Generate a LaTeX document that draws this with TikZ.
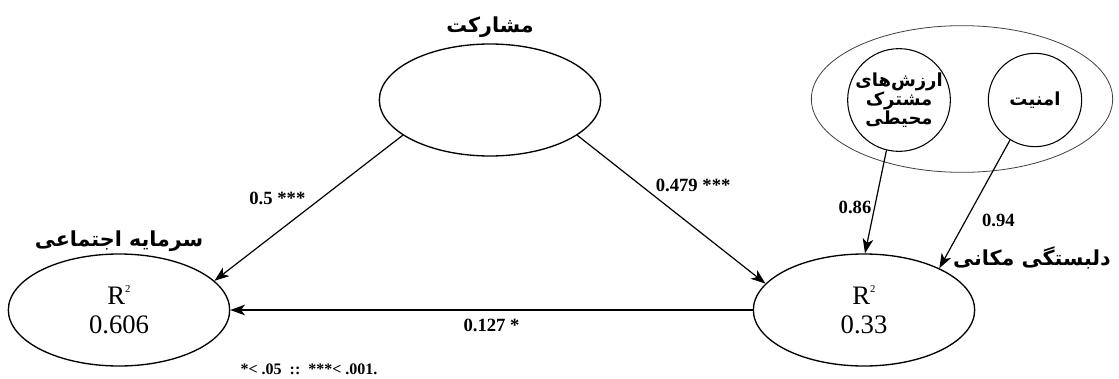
\documentclass[tikz,border=0pt]{standalone}
\usepackage{fontspec}
\setmainfont{Liberation Serif}
\newfontfamily\fafont[Script=Arabic]{DejaVu Sans}
\TeXXeTstate=1
\usetikzlibrary{arrows.meta,positioning,shapes.geometric}
\tikzset{
  lat/.style={draw, ellipse, line width=1pt, minimum width=166pt, minimum height=84pt, inner sep=0pt, align=center, font=\fontsize{20}{22}\selectfont},
  grp/.style={draw=black!75, ellipse, line width=0.6pt, minimum width=226pt, minimum height=110pt},
  ind/.style={draw, circle, line width=0.8pt, minimum size=70pt, inner sep=0pt, align=center, font=\fafont\bfseries\fontsize{13.5}{14}\selectfont},
  ttl/.style={font=\fafont\bfseries\fontsize{15.5}{16}\selectfont, inner sep=1pt},
  coef/.style={font=\bfseries\fontsize{14}{14}\selectfont, inner sep=2pt},
  fl/.style={-{Stealth[length=11pt,width=8pt,inset=3pt]}, line width=0.9pt},
}
\newcommand{\rsq}{R\raisebox{0.95ex}{\fontsize{8}{8}\selectfont 2}}

\begin{document}
\begin{tikzpicture}[x=0.75pt, y=-0.75pt]
\useasboundingbox (0,0) rectangle (1119,378);
\node[lat] (part) at (490,100) {};
\node[lat] (soc) at (119,310) {\rsq\\0.606};
\node[lat] (att) at (864,310) {\rsq\\0.33};
\node[grp] (grp) at (962,99) {};
\node[ind] (val) at (899,100) {\beginR ارزش‌های\endR\\\beginR مشترک\endR\\\beginR محیطی\endR};
\node[ind] (sec) at (1035,100) {\beginR امنیت\endR};
% titles
\node[ttl, above=3pt of part] (tpart) {\beginR مشارکت\endR};
\node[ttl, above=0pt of soc] (tsoc) {\beginR سرمایه اجتماعی\endR};
\node[ttl] (tatt) at (1032,258) {\beginR دلبستگی مکانی\endR};
% paths
\draw[fl] (part.202)--(soc.17) node[midway,above left,coef]{0.5 ***};
\draw[fl] (part.338)--(att.165) node[pos=0.4,above right,coef]{0.479 ***};
\draw[fl] (att.west)--(soc.east) node[midway,below=4pt,coef]{0.127 *};
\draw[fl] (val.256)--(att.89) node[pos=0.55,left,coef]{0.86};
\draw[fl] (sec.238)--(att.29) node[pos=0.63,right,xshift=10pt,coef]{0.94};
% note
\node[coef, font=\bfseries\fontsize{12}{12}\selectfont] (note) at (309,369) {*< .05~~::~~***< .001.};
\end{tikzpicture}
\end{document}
